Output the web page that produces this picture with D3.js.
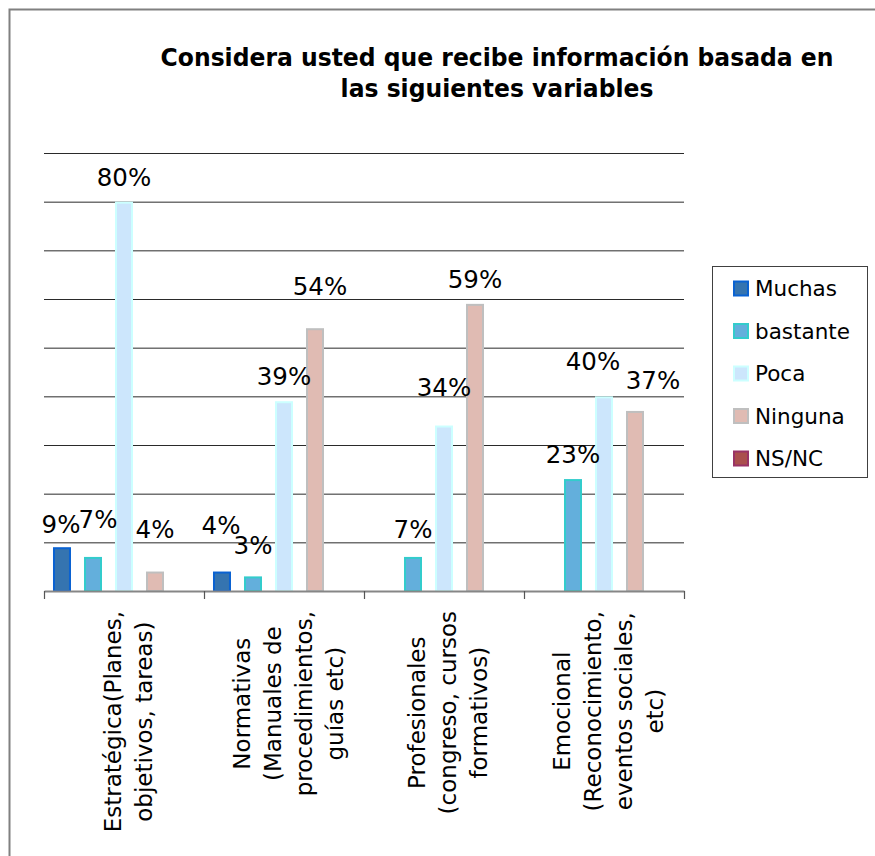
<!DOCTYPE html>
<html>
<head>
<meta charset="utf-8">
<script src="https://cdn.jsdelivr.net/npm/d3@7"></script>
<style>
  html, body { margin: 0; padding: 0; background: #fff; }
  svg { display: block; }
</style>
</head>
<body>
<script>
// ---- data ----
const categories = [
  "Estratégica(Planes,|objetivos, tareas)",
  "Normativas|(Manuales de|procedimientos,|guías etc)",
  "Profesionales|(congreso, cursos|formativos)",
  "Emocional|(Reconocimiento,|eventos sociales,|etc)"
];
const seriesNames = ["Muchas", "bastante", "Poca", "Ninguna", "NS/NC"];
const muchas   = [9, 4, 0, 0];
const bastante = [7, 3, 7, 23];
const poca     = [80, 39, 34, 40];
const ninguna  = [4, 54, 59, 37];
const nsnc     = [0, 0, 0, 0];
const gridTicks = [10, 20, 30, 40, 50, 60, 70, 80, 90];
const titleLines = ["Considera usted que recibe información basada en", "las siguientes variables"];

// ---- styling ----
const fills   = ["#3574b0", "#63afdc", "#cce6fc", "#e0bbb3", "#aa4f4d"];
const strokes = ["#0a62d2", "#33cccc", "#ccffff", "#bfbfbf", "#993366"];
// manual nudges for value labels [dx, dy] per series x category
const labelNudge = [
  [[-1, 2], [-1, -22], [0, 0], [0, 0]],
  [[5, -13], [0, -6], [0, -3], [0, 0]],
  [[0, 0], [0, 0], [0, -14], [-11, -10]],
  [[0, -18], [5, -17], [0, 0], [18, -6]],
  [[0, 0], [0, 0], [0, 0], [0, 0]]
];

const W = 875, H = 856;
const values = [muchas, bastante, poca, ninguna, nsnc];
const table = categories.map((c, ci) => ({
  cat: c,
  vals: seriesNames.map((s, si) => ({ s, si, ci, v: values[si][ci] }))
}));

const svg = d3.select("body").append("svg").attr("width", W).attr("height", H);

// outer chart frame (top and left edges)
svg.append("path")
  .attr("d", `M9.5,${H} L9.5,9.5 L${W},9.5`)
  .attr("fill", "none").attr("stroke", "#808080").attr("stroke-width", 2);

// title: bold, horizontally condensed so the first line spans 673px
const titleG = svg.append("g");
const titleTexts = titleG.selectAll("text").data(titleLines).join("text")
  .attr("text-anchor", "middle")
  .attr("font-family", "DejaVu Sans").attr("font-weight", "bold").attr("font-size", 25.5)
  .attr("fill", "#000")
  .text(d => d);
const titleSx = 673 / titleTexts.node().getComputedTextLength();
titleTexts.attr("transform", (d, i) => `translate(497,${66 + i * 30.5}) scale(${titleSx},1)`);

// scales
const x0 = d3.scaleBand().domain(categories).range([44, 684]).paddingInner(0).paddingOuter(0);
const x1 = d3.scaleBand().domain(seriesNames).range([0, x0.bandwidth()])
  .paddingInner(13 / 31).paddingOuter(0.29);
const y = d3.scaleLinear().domain([0, 90]).range([591, 153]);

// horizontal gridlines
const grid = svg.append("g").attr("transform", "translate(44,0)")
  .call(d3.axisLeft(y).tickValues(gridTicks).tickSize(-640).tickFormat(""));
grid.select(".domain").remove();
grid.selectAll(".tick line").attr("stroke", "#2a2a2a").attr("stroke-width", 1);

// bars
const groups = svg.append("g").selectAll("g").data(table).join("g")
  .attr("transform", d => `translate(${x0(d.cat)},0)`);
groups.selectAll("rect").data(d => d.vals.filter(e => e.v > 0)).join("rect")
  .attr("x", d => x1(d.s) + 1)
  .attr("y", d => y(d.v) + 1)
  .attr("width", x1.bandwidth() - 2)
  .attr("height", d => y(0) - y(d.v) - 1)
  .attr("fill", d => fills[d.si])
  .attr("stroke", d => strokes[d.si])
  .attr("stroke-width", 2);

// value labels
groups.selectAll("text").data(d => d.vals.filter(e => e.v > 0)).join("text")
  .attr("x", d => x1(d.s) + x1.bandwidth() / 2 + labelNudge[d.si][d.ci][0])
  .attr("y", d => y(d.v) - 16 + labelNudge[d.si][d.ci][1])
  .attr("text-anchor", "middle")
  .attr("font-family", "DejaVu Sans").attr("font-size", 24.5).attr("fill", "#000")
  .text(d => d.v + "%");

// category axis: baseline with ticks at category boundaries
const xb = d3.scaleLinear().domain([0, categories.length]).range([44, 684]);
const xAxis = svg.append("g").attr("transform", "translate(0,591)")
  .call(d3.axisBottom(xb).ticks(categories.length).tickSize(8).tickSizeOuter(0).tickFormat(""));
xAxis.select(".domain").attr("stroke", "#868686").attr("stroke-width", 2);
xAxis.selectAll(".tick line").attr("stroke", "#555").attr("stroke-width", 1.2);

// rotated category labels
const catLabels = svg.append("g").selectAll("g").data(categories).join("g")
  .attr("transform", d => `translate(${x0(d) + x0.bandwidth() / 2},611) rotate(-90)`)
  .attr("font-family", "DejaVu Sans").attr("font-size", 23).attr("fill", "#000");
catLabels.each(function (d) {
  const lines = d.split("|");
  const g = d3.select(this);
  const n = lines.length;
  const ts = g.selectAll("text").data(lines).join("text")
    .attr("text-anchor", "middle")
    .attr("y", (l, i) => 12 + (i - (n - 1) / 2) * 31)
    .text(l => l);
  let maxLen = 0;
  ts.each(function () { maxLen = Math.max(maxLen, this.getComputedTextLength()); });
  ts.attr("x", -maxLen / 2);
});

// legend
const legend = svg.append("g");
legend.append("rect").attr("x", 712.5).attr("y", 266.5).attr("width", 155).attr("height", 211)
  .attr("fill", "#fff").attr("stroke", "#404040").attr("stroke-width", 1);
const li = legend.selectAll("g.item").data(seriesNames).join("g").attr("class", "item")
  .attr("transform", (d, i) => `translate(0,${288.5 + i * 42.5})`);
li.append("rect").attr("x", 734).attr("y", -7).attr("width", 14).attr("height", 14)
  .attr("fill", (d, i) => fills[i]).attr("stroke", (d, i) => strokes[i]).attr("stroke-width", 2);
li.append("text").attr("x", 755).attr("y", 7.5)
  .attr("font-family", "DejaVu Sans").attr("font-size", 21.5).attr("fill", "#000")
  .text(d => d);
</script>
</body>
</html>
